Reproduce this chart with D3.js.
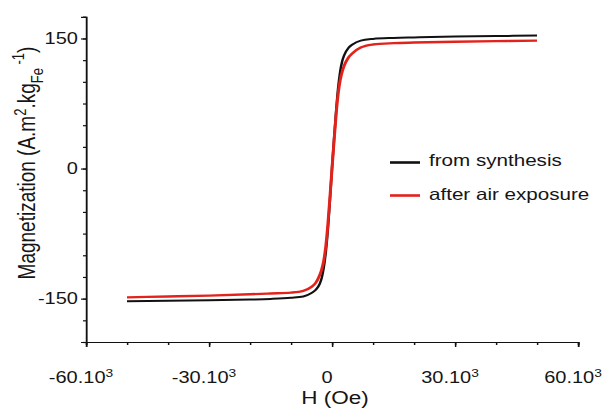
<!DOCTYPE html>
<html><head><meta charset="utf-8">
<script src="https://cdn.jsdelivr.net/npm/d3@7"></script>
<style>
body{margin:0;background:#fff}
text{font-family:"Liberation Sans",Arial,sans-serif;fill:#151515}
</style>
</head><body><svg id="c" width="611" height="409"></svg>
<script>
// ---- data ----
const fieldH = [-50000,-40000,-30000,-20000,-15000,-10000,-7000,-5000,-4000,-3000,-2500,-2000,-1500,-1000,-500,0,500,1000,1500,2000,2500,3000,4000,5000,7000,10000,15000,20000,30000,40000,50000];
const fromSynthesis = [-153,-152.5,-152,-151,-150.3,-149,-147.5,-143.5,-140,-133,-126,-114,-96,-70,-36,0,34,66,93,112,124,131,139,143,147.5,149.5,150.6,151.2,152.2,152.8,153.3];
const afterAirExposure = [-148.5,-147.5,-146.5,-145,-144,-143,-141,-136.5,-132,-123,-116,-106,-89,-64,-33,0,32,62,86,102,112,119,128,133,139.5,143,144.6,145.3,146.3,147,147.5];
const seriesNames = ["from synthesis","after air exposure"];
const seriesColors = ["#111111","#e3221c"];
const xTickValues = [-60000,-30000,0,30000,60000];
const xTickLabels = ["-60.10","-30.10","0","30.10","60.10"];
const xTickSup = ["3","3","","3","3"];
const yTickValues = [-150,0,150];
const yTickLabels = ["-150","0","150"];

// ---- layout ----
const sx = 1.25; // horizontal stretch of the original figure
const svg = d3.select("#c");
const g = svg.append("g").attr("transform",`scale(${sx},1)`);
const x = d3.scaleLinear().domain([-60000,60000]).range([86/sx,578/sx]);
const y = d3.scaleLinear().domain([-200,175]).range([342,16.8]);

// minor ticks
const xMinor = d3.axisBottom(x).tickValues(d3.range(-60000,60001,10000)).tickSize(3).tickFormat(()=>"");
const yMinor = d3.axisLeft(y).tickValues(d3.range(-200,176,25)).tickSize(3/sx).tickFormat(()=>"");
const gxm = g.append("g").attr("transform",`translate(0,${y(-200)})`).call(xMinor);
const gym = g.append("g").attr("transform",`translate(${x(-60000)},0)`).call(yMinor);
// major ticks
const xMajor = d3.axisBottom(x).tickValues(xTickValues).tickSize(5).tickFormat(()=>"");
const yMajor = d3.axisLeft(y).tickValues(yTickValues).tickSize(5/sx).tickFormat(()=>"");
const gx = g.append("g").attr("transform",`translate(0,${y(-200)})`).call(xMajor);
const gy = g.append("g").attr("transform",`translate(${x(-60000)},0)`).call(yMajor);
[gxm,gym,gx,gy].forEach(a=>{
  a.selectAll("path.domain").attr("stroke","#111").attr("stroke-width",1.2);
  a.selectAll(".tick line").attr("stroke","#111").attr("stroke-width",1.2);
});

// x tick labels
xTickValues.forEach((v,i)=>{
  const t = g.append("text").attr("x",x(v)-5/sx).attr("y",383)
    .attr("text-anchor","middle").attr("font-size",16);
  t.append("tspan").text(xTickLabels[i]);
  if (xTickSup[i]) t.append("tspan").attr("dy",-6).attr("font-size",11).text(xTickSup[i]);
});
// y tick labels
yTickValues.forEach((v,i)=>{
  g.append("text").attr("x",78/sx).attr("y",y(v)+5.5)
    .attr("text-anchor","end").attr("font-size",16).text(yTickLabels[i]);
});

// axis titles
g.append("text").attr("x",335/sx).attr("y",404).attr("text-anchor","middle")
  .attr("font-size",18).text("H (Oe)");
const yt = g.append("text").attr("transform",`translate(${35/sx},163) rotate(-90)`)
  .attr("text-anchor","middle").attr("font-size",19);
yt.append("tspan").text("Magnetization (A.m");
yt.append("tspan").attr("dy",-7).attr("font-size",13).text("2");
yt.append("tspan").attr("dy",7).text(".kg");
yt.append("tspan").attr("dy",6).attr("font-size",13).text("Fe");
yt.append("tspan").attr("dy",-15).attr("font-size",13).text(" -1");
yt.append("tspan").attr("dy",9).text(")");

// curves
const line = d3.line().x(d=>x(d[0])).y(d=>y(d[1])).curve(d3.curveMonotoneX);
const series = [fromSynthesis, afterAirExposure];
series.forEach((vals,i)=>{
  g.append("path").datum(fieldH.map((h,j)=>[h,vals[j]]))
    .attr("fill","none").attr("stroke",seriesColors[i])
    .attr("stroke-width",i===0?2:2.4).attr("stroke-linejoin","round")
    .attr("d",line);
});

// legend
const legY = [162.5,195.5];
seriesNames.forEach((n,i)=>{
  g.append("line").attr("x1",390/sx).attr("x2",420/sx).attr("y1",legY[i]).attr("y2",legY[i])
    .attr("stroke",seriesColors[i]).attr("stroke-width",2.6);
  g.append("text").attr("x",429/sx).attr("y",legY[i]+4+ (i===0?0:1)).attr("font-size",16.5).text(n);
});
</script></body></html>
